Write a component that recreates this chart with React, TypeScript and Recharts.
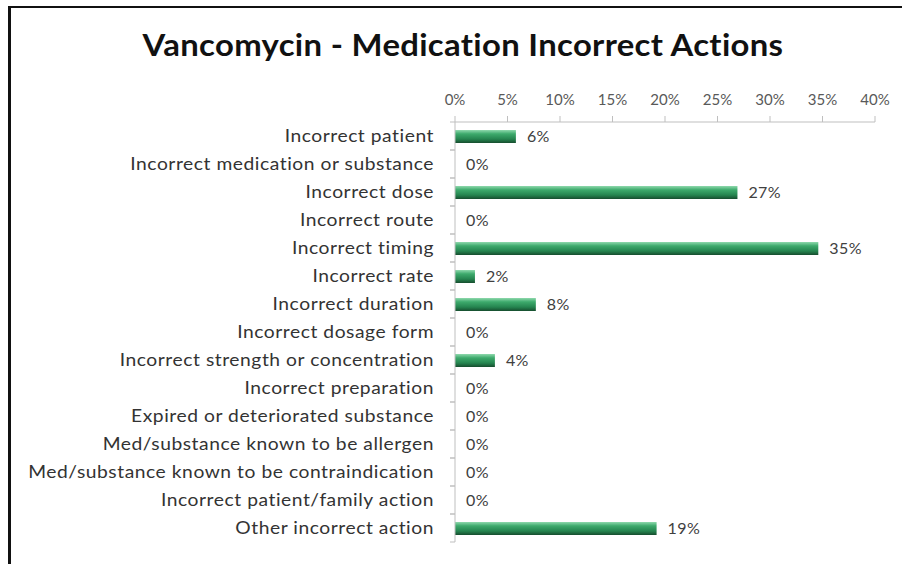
import React from "react";
import { BarChart, Bar, XAxis, YAxis, LabelList } from "recharts";

// Vancomycin incorrect-action categories, top to bottom
const categories = [
  "Incorrect patient",
  "Incorrect medication or substance",
  "Incorrect dose",
  "Incorrect route",
  "Incorrect timing",
  "Incorrect rate",
  "Incorrect duration",
  "Incorrect dosage form",
  "Incorrect strength or concentration",
  "Incorrect preparation",
  "Expired or deteriorated substance",
  "Med/substance known to be allergen",
  "Med/substance known to be contraindication",
  "Incorrect patient/family action",
  "Other incorrect action",
];

// share of events, in percent
const shares = [5.8, 0, 26.9, 0, 34.6, 1.9, 7.7, 0, 3.8, 0, 0, 0, 0, 0, 19.2];

const xTicks = [0, 5, 10, 15, 20, 25, 30, 35, 40];

const data = categories.map((name, i) => ({ name, value: shares[i] }));

const FONT = "Lato, 'Open Sans', sans-serif";
const AXIS = "#bfbfbf";

const CategoryTick = ({ x, y, payload }: any) => (
  <g>
    <text
      transform={`translate(${x},${y}) scale(1.1,1)`}
      dy={6}
      textAnchor="end"
      fontSize={17.5}
      letterSpacing={0.5}
      fill="#333"
      fontFamily={FONT}
    >
      {payload.value}
    </text>
    <line x1={x + 16} x2={x + 21} y1={y + 14} y2={y + 14} stroke={AXIS} />
    <line x1={x + 16} x2={x + 21} y1={y - 14} y2={y - 14} stroke={AXIS} />
  </g>
);

export default function App() {
  return (
    <div style={{ position: "absolute", left: 0, top: 0, width: 902, height: 564, background: "#fff", overflow: "hidden" }}>
      {/* frame */}
      <div style={{ position: "absolute", left: 8, top: 6, width: 900, height: 556, borderLeft: "3px solid #111", borderTop: "2px solid #111", borderBottom: "1px solid #d0d0d0" }} />
      <div
        style={{
          position: "absolute",
          left: 0,
          width: 926,
          top: 25,
          textAlign: "center",
          fontFamily: FONT,
          fontWeight: 700,
          fontSize: 31,
          letterSpacing: 0.3,
          transform: "scaleX(1.06)",
          transformOrigin: "463px 0",
          color: "#111",
        }}
      >
        Vancomycin - Medication Incorrect Actions
      </div>
      <div style={{ position: "absolute", left: 0, top: 0 }}>
        <BarChart
          width={902}
          height={564}
          data={data}
          layout="vertical"
          margin={{ top: 92, right: 27, bottom: 22, left: 0 }}
          barCategoryGap={0}
        >
          <defs>
            <linearGradient id="barGreen" x1="0" y1="0" x2="0" y2="1">
              <stop offset="0%" stopColor="#8fd9ad" />
              <stop offset="30%" stopColor="#3daa6c" />
              <stop offset="70%" stopColor="#25844f" />
              <stop offset="100%" stopColor="#164d2e" />
            </linearGradient>
          </defs>
          <XAxis
            type="number"
            orientation="top"
            domain={[0, 40]}
            ticks={xTicks}
            tickFormatter={(v: number) => `${v}%`}
            height={30}
            stroke={AXIS}
            tickSize={6}
            tickMargin={11}
            tick={{ fill: "#595959", fontSize: 15, fontFamily: FONT }}
            interval={0}
          />
          <YAxis
            type="category"
            dataKey="name"
            width={455}
            stroke={AXIS}
            tickLine={false}
            tickMargin={15}
            tick={<CategoryTick />}
            interval={0}
          />
          <Bar dataKey="value" fill="url(#barGreen)" barSize={13} minPointSize={0.01} isAnimationActive={false}>
            <LabelList
              dataKey="value"
              position="right"
              offset={11}
              formatter={(v: any) => `${Math.round(Number(v))}%`}
              style={{ fill: "#404040", fontSize: 16, letterSpacing: 0.4, fontFamily: FONT }}
            />
          </Bar>
        </BarChart>
      </div>
    </div>
  );
}
